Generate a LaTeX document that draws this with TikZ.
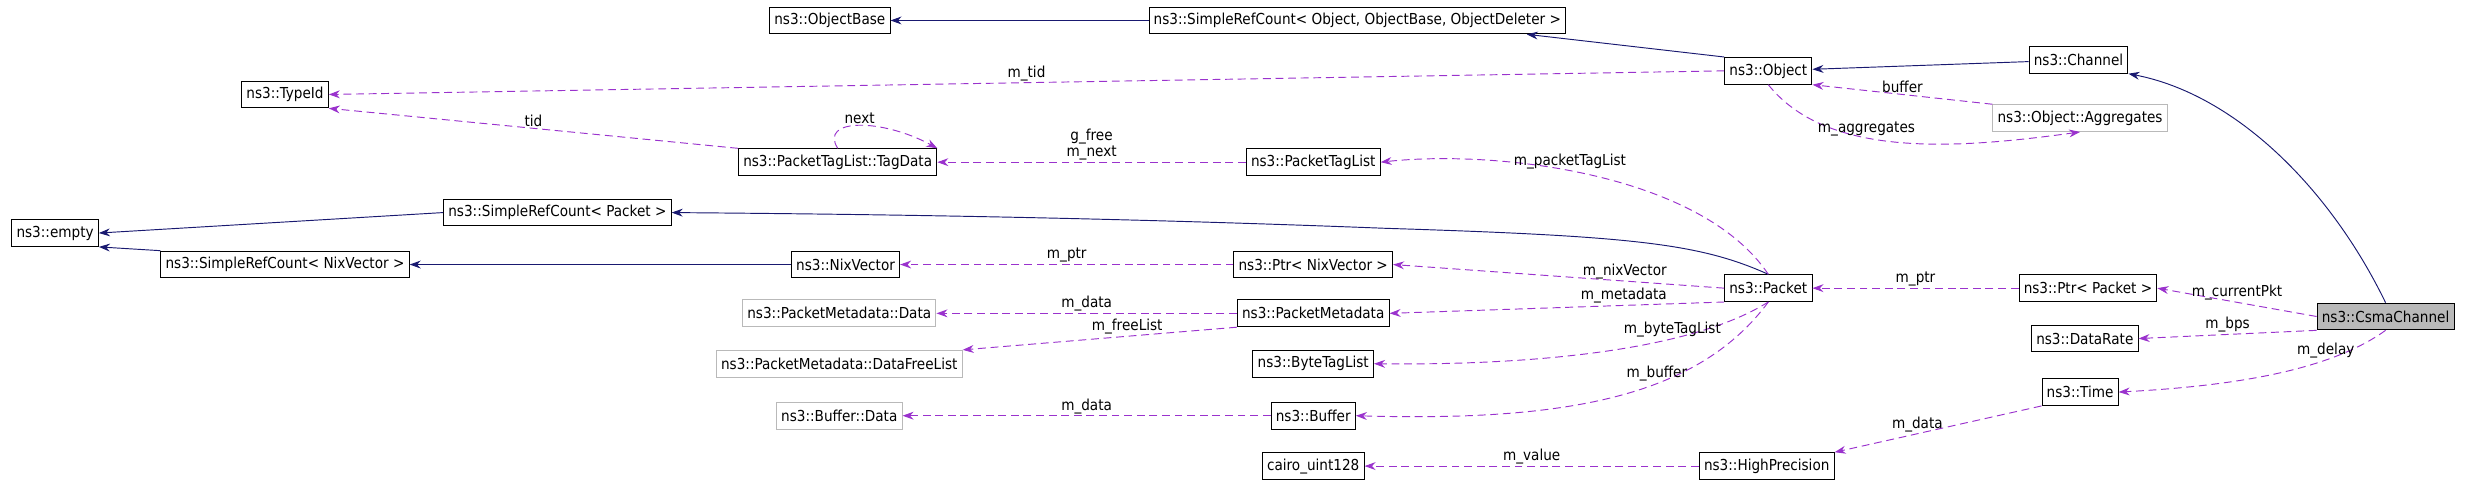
\documentclass[tikz,border=0pt]{standalone}
\usepackage{fontspec}
\setmainfont{DejaVu Sans Condensed}
\usetikzlibrary{arrows.meta}
\definecolor{inhcol}{HTML}{191970}
\definecolor{usecol}{HTML}{9A32CD}
\tikzset{
  cls/.style = {draw = black, line width = 0.6pt, minimum height = 17pt, inner xsep = 3pt, inner ysep = 0pt, font = \fontsize{9.6}{10}\selectfont},
  gcls/.style = {cls, draw = gray!55},
  hcls/.style = {cls, fill = gray!55},
  inh/.style = {draw = inhcol, line width = 0.6pt, -{Stealth[length = 7pt, width = 5pt]}},
  use/.style = {draw = usecol, line width = 0.6pt, dashed, dash pattern = on 5pt off 3pt, -{Stealth[length = 7pt, width = 5pt, fill = usecol]}},
  lbl/.style = {font = \fontsize{9.6}{10}\selectfont, inner sep = 1pt, align = center}
}
\begin{document}
\begin{tikzpicture}[x = 1pt, y = -1pt]
\useasboundingbox (0,0) rectangle (1568,307);
% classes
\node[cls] (objbase) at (527,13) {ns3::ObjectBase};
\node[cls] (srcobj) at (862,13) {ns3::SimpleRefCount< Object, ObjectBase, ObjectDeleter >};
\node[cls] (typeid) at (181,60) {ns3::TypeId};
\node[cls] (object) at (1123,45) {ns3::Object};
\node[cls] (channel) at (1320,38) {ns3::Channel};
\node[gcls] (aggr) at (1321,75) {ns3::Object::Aggregates};
\node[cls] (tagdata) at (532,103) {ns3::PacketTagList::TagData};
\node[cls] (ptaglist) at (834,103) {ns3::PacketTagList};
\node[cls] (empty) at (35,148) {ns3::empty};
\node[cls] (srcpkt) at (354,135) {ns3::SimpleRefCount< Packet >};
\node[cls] (srcnix) at (181,168) {ns3::SimpleRefCount< NixVector >};
\node[cls] (nix) at (537,168) {ns3::NixVector};
\node[cls] (ptrnix) at (834,168) {ns3::Ptr< NixVector >};
\node[cls] (packet) at (1123,183) {ns3::Packet};
\node[cls] (ptrpkt) at (1326,183) {ns3::Ptr< Packet >};
\node[hcls] (csma) at (1515,201) {ns3::CsmaChannel};
\node[gcls] (pmdata) at (533,199) {ns3::PacketMetadata::Data};
\node[cls] (pmeta) at (834,199) {ns3::PacketMetadata};
\node[cls] (rate) at (1324,215) {ns3::DataRate};
\node[gcls] (freelist) at (533,231) {ns3::PacketMetadata::DataFreeList};
\node[cls] (btaglist) at (834,231) {ns3::ByteTagList};
\node[gcls] (bufdata) at (533,264) {ns3::Buffer::Data};
\node[cls] (buffer) at (834,264) {ns3::Buffer};
\node[cls] (time) at (1321,249) {ns3::Time};
\node[cls] (cairo) at (834,296) {cairo\_uint128};
\node[cls] (hprec) at (1122,296) {ns3::HighPrecision};
% inheritance
\draw[inh] (srcobj) -- (objbase);
\draw[inh] (object.north west) -- ([xshift = -25pt]srcobj.south east);
\draw[inh] (channel) -- (object);
\draw[inh] (csma.north) .. controls (1480,120) and (1420,60) .. (channel.south east);
\draw[inh] (packet.north) .. controls (1080,155) and (1040,150) .. (880,145) .. controls (700,138) and (550,136) .. (srcpkt.east);
\draw[inh] (srcpkt.west) -- (empty.east);
\draw[inh] (srcnix.north west) -- (empty.south east);
\draw[inh] (nix) -- (srcnix);
% members
\draw[use] (object.west) -- node[lbl, above, pos = 0.5] {m\_tid} (typeid.east);
\draw[use] (tagdata.north west) -- node[lbl, above, pos = 0.5] {tid} (typeid.south east);
\draw[use] (tagdata.north) .. controls (520,75) and (560,75) .. node[lbl, above] {next} (tagdata.north east);
\draw[use] (ptaglist) -- node[lbl, above] {g\_free\\m\_next} (tagdata);
\draw[use] (aggr.north west) -- node[lbl, above] {buffer} (object.south east);
\draw[use] (object.south) .. controls (1160,100) and (1240,95) .. node[lbl, above, pos = 0.4] {m\_aggregates} (aggr.south);
\draw[use] (packet.north) .. controls (1080,110) and (950,95) .. node[lbl, above, pos = 0.55] {m\_packetTagList} (ptaglist.east);
\draw[use] (ptrnix) -- node[lbl, above] {m\_ptr} (nix);
\draw[use] (packet.west) -- node[lbl, above, pos = 0.3] {m\_nixVector} (ptrnix.east);
\draw[use] (pmeta) -- node[lbl, above] {m\_data} (pmdata);
\draw[use] (pmeta.south west) -- node[lbl, above, pos = 0.4] {m\_freeList} (freelist.north east);
\draw[use] (packet.south west) -- node[lbl, above, pos = 0.3] {m\_metadata} (pmeta.east);
\draw[use] (packet.south) .. controls (1070,225) and (960,232) .. node[lbl, above, pos = 0.3] {m\_byteTagList} (btaglist.east);
\draw[use] (packet.south) .. controls (1080,250) and (1000,268) .. node[lbl, above, pos = 0.4] {m\_buffer} (buffer.east);
\draw[use] (buffer) -- node[lbl, above] {m\_data} (bufdata);
\draw[use] (ptrpkt) -- node[lbl, above] {m\_ptr} (packet);
\draw[use] (csma.west) -- node[lbl, above] {m\_currentPkt} (ptrpkt.east);
\draw[use] (csma.south west) -- node[lbl, above] {m\_bps} (rate.east);
\draw[use] (csma.south) .. controls (1480,235) and (1420,245) .. node[lbl, above, pos = 0.3] {m\_delay} (time.east);
\draw[use] (time.south west) -- node[lbl, above, pos = 0.6] {m\_data} (hprec.north east);
\draw[use] (hprec) -- node[lbl, above] {m\_value} (cairo);
\end{tikzpicture}
\end{document}
